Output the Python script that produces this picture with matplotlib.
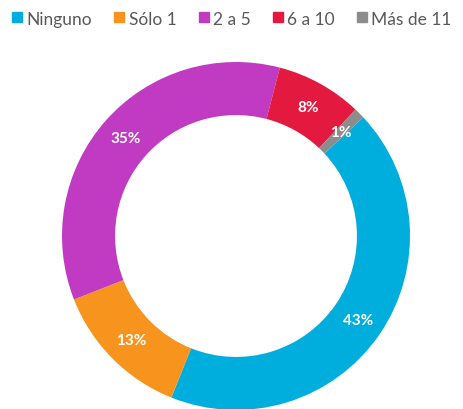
import matplotlib
matplotlib.use("Agg")
import matplotlib.pyplot as plt
from matplotlib.lines import Line2D

categories = ["Ninguno", "Sólo 1", "2 a 5", "6 a 10", "Más de 11"]
values = [43, 13, 35, 8, 1]
colors = ["#00AEDD", "#F7941D", "#C03BC2", "#E3193F", "#8C8C8C"]

plt.rcParams['font.family'] = ['Lato', 'DejaVu Sans']

fig = plt.figure(figsize=(4.64, 4.10), dpi=100)
ax = fig.add_axes([62/464, -1/410, 348/464, 348/410])

wedges, texts, autotexts = ax.pie(
    values, colors=colors, startangle=43, counterclock=False,
    radius=1.0, wedgeprops=dict(width=0.305, edgecolor='none'),
    autopct=lambda p: f"{p:.0f}%", pctdistance=0.85,
    textprops=dict(color='white', fontsize=11, fontweight='bold'))
ax.set_xlim(-1, 1)
ax.set_ylim(-1, 1)
ax.set_aspect('equal')
ax.axis('off')

handles = [Line2D([0], [0], marker='s', linestyle='none', markersize=6.5,
                  markerfacecolor=c, markeredgecolor=c) for c in colors]
fig.legend(handles, categories, loc='upper center', bbox_to_anchor=(0.5, 1.01),
           ncol=5, frameon=False, fontsize=12.5, handlelength=0.55, handletextpad=0.25,
           columnspacing=1.3, labelcolor='#595959')

fig.savefig("out.png", dpi=100, facecolor='white')
